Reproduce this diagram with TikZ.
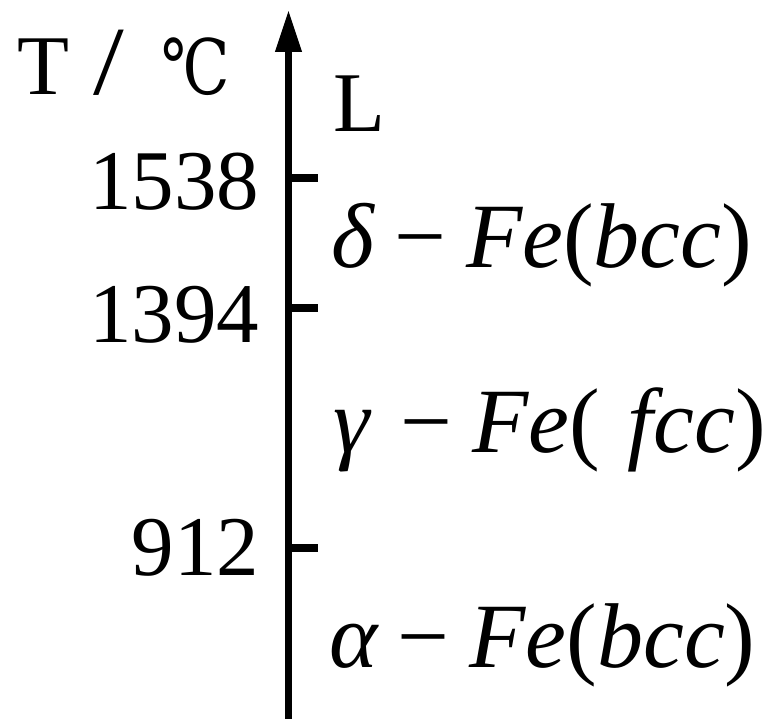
\documentclass[tikz,border=0pt]{standalone}
\usepackage{fontspec}
\setmainfont{Liberation Serif}
\newfontfamily\symfont{DejaVu Serif}
\usetikzlibrary{arrows.meta}
\newcommand\phaselab[4]{{\itshape #1}\hspace{#3}−\hspace{0.22em}{\itshape Fe}(\hspace{#4}\textit{#2})}
\begin{document}
\begin{tikzpicture}[x=1pt,y=-1pt,
  lab/.style={inner sep=0pt,outer sep=0pt,font=\fontsize{85}{85}\selectfont},
  phase/.style={inner sep=0pt,outer sep=0pt,anchor=base west,font=\fontsize{92}{92}\selectfont},
  axisline/.style={line width=7pt,-{Triangle[width=25pt,length=42pt]}},
  tickline/.style={line width=8pt}]
\useasboundingbox (0,0) rectangle (771,719);
\coordinate (bot) at (288.5,719);
\coordinate (top) at (288.5,10);
\draw[axisline] (bot) -- (top);
% ticks
\coordinate (a1538) at (288.5,178); \coordinate (b1538) at (318,178);
\coordinate (a1394) at (288.5,308); \coordinate (b1394) at (318,308);
\coordinate (a912) at (288.5,548);  \coordinate (b912) at (318,548);
\draw[tickline] (a1538) -- (b1538);
\draw[tickline] (a1394) -- (b1394);
\draw[tickline] (a912) -- (b912);
% labels
\node[lab,anchor=base west] (tlab) at (17,95) {T\hspace{0.29em}\scalebox{1.3}[1.15]{/}\hspace{0.44em}\scalebox{0.72}[0.9]{\symfont ℃}};
\node[lab,anchor=base west] (L) at (333,132) {L};
\node[lab,anchor=base east] (n1538) at (259,210) {1538};
\node[lab,anchor=base east] (n1394) at (259,342) {1394};
\node[lab,anchor=base east] (n912) at (259,575) {912};
\node[phase] (delta) at (331,268) {\phaselab{δ}{bcc}{0.22em}{0pt}};
\node[phase] (gamma) at (333,452) {\phaselab{γ}{fcc}{0.34em}{0.3em}};
\node[phase] (alpha) at (329,667) {\phaselab{α}{bcc}{0.22em}{0pt}};
\end{tikzpicture}
\end{document}
